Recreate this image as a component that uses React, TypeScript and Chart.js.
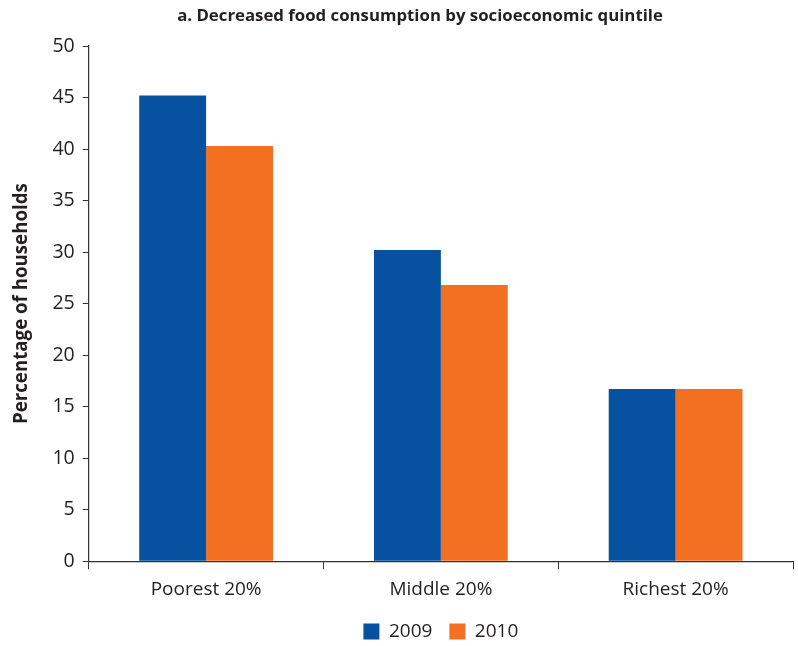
import React, { useEffect, useRef } from "react";
import { Chart, registerables } from "chart.js";

Chart.register(...registerables);

const categories = ["Poorest 20%", "Middle 20%", "Richest 20%"];
const series2009 = [45.2, 30.2, 16.7];
const series2010 = [40.3, 26.8, 16.7];
const seriesLabels = ["2009", "2010"];
const titleText = "a. Decreased food consumption by socioeconomic quintile";
const yAxisTitle = "Percentage of households";

const FONT = "'Open Sans', 'Noto Sans', sans-serif";

export default function App() {
  const ref = useRef<HTMLCanvasElement | null>(null);

  useEffect(() => {
    document.body.style.margin = "0";
    const canvas = ref.current;
    if (!canvas) return;

    const titlePlugin = {
      id: "customTitle",
      afterDraw(chart: any) {
        const ctx = chart.ctx;
        ctx.save();
        ctx.font = `bold 16.8px ${FONT}`;
        ctx.fillStyle = "#231f20";
        ctx.textAlign = "center";
        ctx.textBaseline = "middle";
        ctx.fillText(titleText, 420, 16);
        ctx.restore();
      },
    };

    const chart = new Chart(canvas, {
      type: "bar",
      data: {
        labels: categories,
        datasets: [
          {
            label: seriesLabels[0],
            data: series2009,
            backgroundColor: "#0651a0",
            barPercentage: 1,
            categoryPercentage: 0.57,
          },
          {
            label: seriesLabels[1],
            data: series2010,
            backgroundColor: "#f37022",
            barPercentage: 1,
            categoryPercentage: 0.57,
          },
        ],
      },
      options: {
        animation: false,
        responsive: false,
        maintainAspectRatio: false,
        layout: { padding: { top: 46, left: 10, right: 5, bottom: -5 } },
        plugins: {
          legend: {
            position: "bottom",
            fullSize: false,
            labels: {
              boxWidth: 16,
              boxHeight: 16,
              padding: 17,
              color: "#231f20",
              font: { family: FONT, size: 19 },
            },
          },
          title: { display: false },
          tooltip: { enabled: false },
        },
        scales: {
          x: {
            grid: {
              display: true,
              offset: true,
              drawOnChartArea: false,
              tickLength: 8,
              color: "#333",
            },
            border: { display: true, color: "#333", width: 1.2 },
            ticks: {
              color: "#231f20",
              font: { family: FONT, size: 19 },
              padding: 9,
            },
            afterFit: (scale: any) => {
              scale.height -= 5;
            },
          },
          y: {
            min: 0,
            max: 50,
            grid: {
              display: true,
              drawOnChartArea: false,
              tickLength: 6,
              color: "#333",
            },
            border: { display: true, color: "#333", width: 1.2 },
            ticks: {
              stepSize: 5,
              color: "#231f20",
              font: { family: FONT, size: 19.5 },
              padding: 8,
            },
            title: {
              display: true,
              text: yAxisTitle,
              color: "#231f20",
              font: { family: FONT, size: 18.7, weight: "bold" },
              padding: { top: 0, bottom: 12 },
            },
          },
        },
      },
      plugins: [titlePlugin],
    });

    return () => chart.destroy();
  }, []);

  return <canvas ref={ref} width={798} height={646} style={{ display: "block" }} />;
}
